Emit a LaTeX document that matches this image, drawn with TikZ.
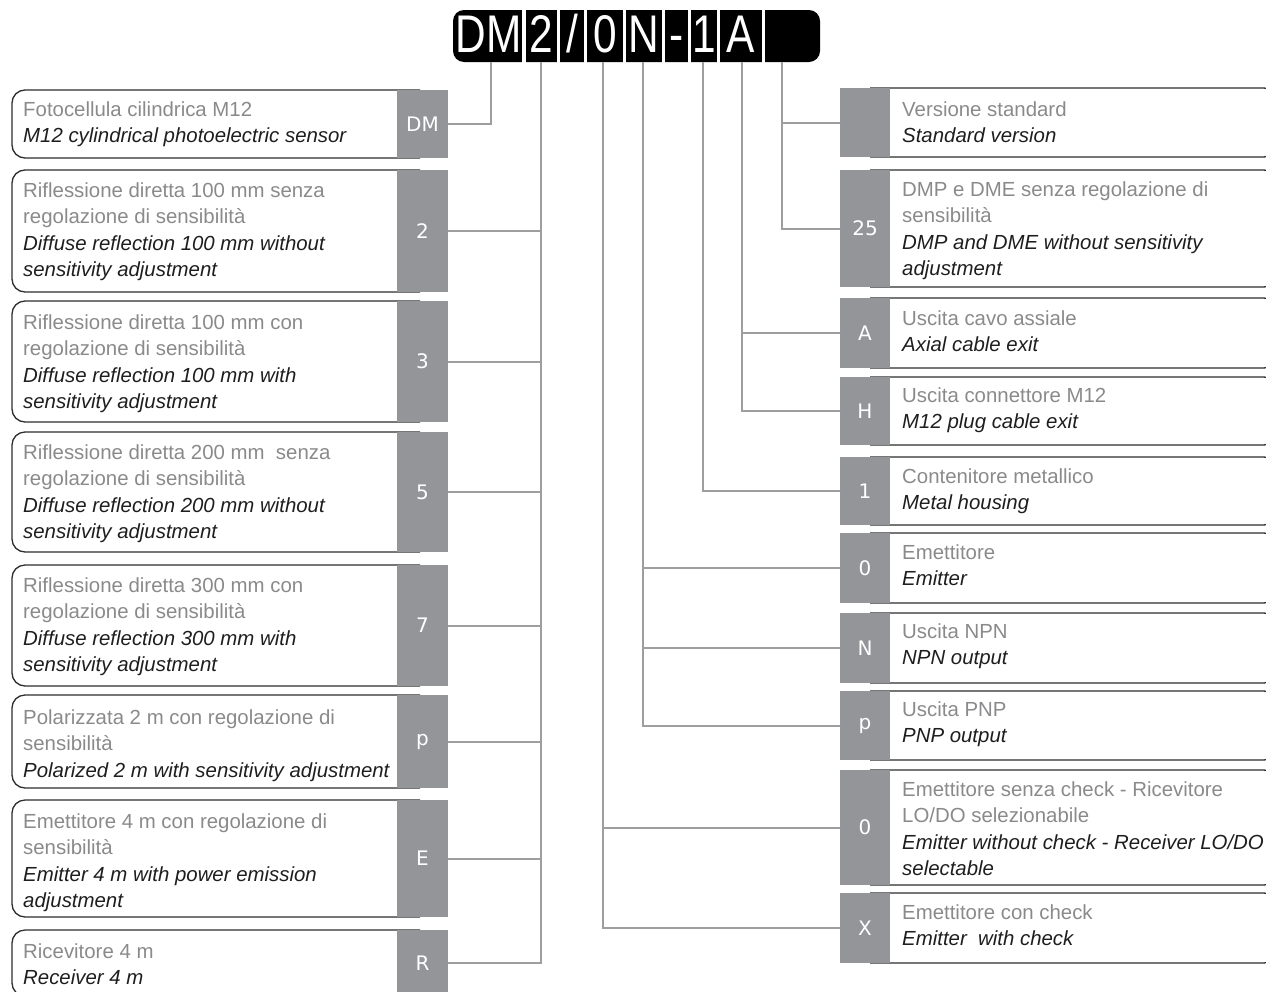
\documentclass[tikz,border=0pt]{standalone}
\usepackage{fontspec}
\setmainfont{Liberation Sans}
\newfontfamily\codefont[FakeStretch=0.8]{Liberation Sans}
\newfontfamily\tabfont{DejaVu Sans}
\definecolor{tabgray}{RGB}{147,149,152}
\definecolor{conngray}{RGB}{158,158,160}
\definecolor{itgray}{RGB}{138,138,140}
\definecolor{engblack}{RGB}{30,30,30}
\definecolor{boxline}{RGB}{45,45,45}
\newcommand\itl[1]{\textcolor{itgray}{#1}}
\newcommand\eng[1]{\textcolor{engblack}{\itshape #1}}
\tikzset{
  conn/.style={draw=conngray, line width=2pt},
  boxframe/.style={draw=boxline, line width=1.3pt},
  tab/.style={fill=tabgray, text=white, inner sep=0pt, font=\tabfont\fontsize{20}{20}\selectfont},
  desc/.style={anchor=north west, inner sep=0pt, align=left, font=\fontsize{20.4}{26.5}\selectfont},
  code/.style={anchor=base, text=white, inner sep=0pt, font=\codefont\fontsize{53}{53}\selectfont},
}
% name, top, bottom, first baseline, tab label, text
\newcommand\LBox[6]{%
  \draw[boxframe, rounded corners=13pt] (420,#2) -- (12,#2) -- (12,#3) -- (420,#3);
  \node[tab, minimum width=51pt, minimum height={#3-#2}] (t#1) at (422.5,{(#2+#3)/2}) {#5};
  \node[desc] (d#1) at (23,{#4-20}) {\rule{0pt}{20pt}#6};
}
\newcommand\RBox[6]{%
  \draw[boxframe, rounded corners=10pt] (870,#2) -- (1274,#2) -- (1274,#3) -- (870,#3);
  \node[tab, minimum width=50pt, minimum height={#3-#2}] (t#1) at (865,{(#2+#3)/2}) {#5};
  \node[desc] (d#1) at (902,{#4-20}) {\rule{0pt}{20pt}#6};
}
\begin{document}
\begin{tikzpicture}[x=1pt, y=-1pt]
\useasboundingbox (0,0) rectangle (1266,991);

% code bar
\fill[black, rounded corners=11pt] (453,10) rectangle (820,62);
\foreach \gx in {524,558.5,585.5,624.5,663.5,689.5,718.5,763.5}
  \draw[white, line width=3.2pt] (\gx,8) -- (\gx,64);
\node[code] (cDM) at (488.5,52) {DM};
\node[code] (c2)  at (541.5,52) {2};
\node[code] (cSl) at (572,52) {/};
\node[code] (c0)  at (605,52) {0};
\node[code] (cN)  at (644,52) {N};
\node[code] (cDa) at (676.5,52) {-};
\node[code] (c1)  at (704,52) {1};
\node[code] (cA)  at (741,52) {A};

\coordinate (bDM) at (491,62);
\coordinate (b2)  at (541,62);
\coordinate (b0)  at (603,62);
\coordinate (bN)  at (643,62);
\coordinate (b1)  at (703,62);
\coordinate (bA)  at (742,62);
\coordinate (bL)  at (782,62);

% left boxes
\LBox{LDM}{90}{158}{116}{DM}{\itl{Fotocellula cilindrica M12}\\\eng{M12 cylindrical photoelectric sensor}}
\LBox{L2}{170}{292}{197}{2}{\itl{Riflessione diretta 100 mm senza}\\\itl{regolazione di sensibilità}\\\eng{Diffuse reflection 100 mm without}\\\eng{sensitivity adjustment}}
\LBox{L3}{301}{422}{329}{3}{\itl{Riflessione diretta 100 mm con}\\\itl{regolazione di sensibilità}\\\eng{Diffuse reflection 100 mm with}\\\eng{sensitivity adjustment}}
\LBox{L5}{432}{552}{459}{5}{\itl{Riflessione diretta 200 mm\ \ senza}\\\itl{regolazione di sensibilità}\\\eng{Diffuse reflection 200 mm without}\\\eng{sensitivity adjustment}}
\LBox{L7}{565}{686}{592}{7}{\itl{Riflessione diretta 300 mm con}\\\itl{regolazione di sensibilità}\\\eng{Diffuse reflection 300 mm with}\\\eng{sensitivity adjustment}}
\LBox{Lp}{695}{788}{724}{p}{\itl{Polarizzata 2 m con regolazione di}\\\itl{sensibilità}\\\eng{Polarized 2 m with sensitivity adjustment}}
\LBox{LE}{800}{917}{828}{E}{\itl{Emettitore 4 m con regolazione di}\\\itl{sensibilità}\\\eng{Emitter 4 m with power emission}\\\eng{adjustment}}
\LBox{LR}{930}{996}{958}{R}{\itl{Ricevitore 4 m}\\\eng{Receiver 4 m}}

% right boxes
\RBox{RS}{88}{157}{116}{}{\itl{Versione standard}\\\eng{Standard version}}
\RBox{R25}{170}{287}{196}{25}{\itl{DMP e DME senza regolazione di}\\\itl{sensibilità}\\\eng{DMP and DME without sensitivity}\\\eng{adjustment}}
\RBox{RA}{298}{368}{325}{A}{\itl{Uscita cavo assiale}\\\eng{Axial cable exit}}
\RBox{RH}{377}{445}{402}{H}{\itl{Uscita connettore M12}\\\eng{M12 plug cable exit}}
\RBox{R1}{457}{525}{483}{1}{\itl{Contenitore metallico}\\\eng{Metal housing}}
\RBox{R0}{533}{603}{559}{0}{\itl{Emettitore}\\\eng{Emitter}}
\RBox{RN}{613}{683}{638}{N}{\itl{Uscita NPN}\\\eng{NPN output}}
\RBox{Rp}{691}{760}{716}{p}{\itl{Uscita PNP}\\\eng{PNP output}}
\RBox{RO}{770}{885}{796}{0}{\itl{Emettitore senza check - Ricevitore}\\\itl{LO/DO selezionabile}\\\eng{Emitter without check - Receiver LO/DO}\\\eng{selectable}}
\RBox{RX}{893}{963}{919}{X}{\itl{Emettitore con check}\\\eng{Emitter\ \ with check}}

% connectors
\draw[conn] (tLDM.east) -| (bDM);
\foreach \n in {L2,L3,L5,L7,Lp,LE,LR} \draw[conn] (t\n.east) -| (b2);
\foreach \n in {RO,RX} \draw[conn] (t\n.west) -| (b0);
\foreach \n in {R0,RN,Rp} \draw[conn] (t\n.west) -| (bN);
\draw[conn] (tR1.west) -| (b1);
\foreach \n in {RA,RH} \draw[conn] (t\n.west) -| (bA);
\foreach \n in {RS,R25} \draw[conn] (t\n.west) -| (bL);
\end{tikzpicture}
\end{document}
